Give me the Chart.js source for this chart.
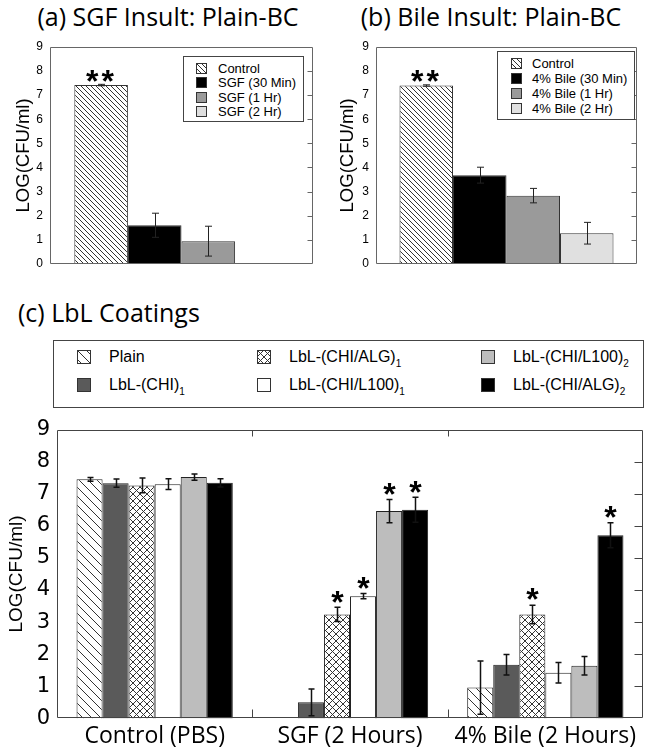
<!DOCTYPE html>
<html>
<head>
<meta charset="utf-8">
<script src="https://cdn.jsdelivr.net/npm/chart.js@4.4.1/dist/chart.umd.min.js"></script>
<style>
  html, body { margin: 0; padding: 0; background: #fff; }
  body { width: 648px; height: 755px; position: relative; overflow: hidden; font-family: 'Liberation Sans', Arial, sans-serif; }
  .abs { position: absolute; }
  .ttl { position: absolute; font-family: 'Open Sans', sans-serif; font-size: 25px; line-height: 30px; color: #000; white-space: nowrap; }
  .lg { position: absolute; border: 1px solid #444; background: #fff; box-sizing: border-box; }
  .lgt { position: absolute; white-space: nowrap; color: #000; }
  .lgt sub { font-size: 10px; vertical-align: -5px; line-height: 0; }
</style>
</head>
<body>

<div class="ttl" id="ttlA" style="left:0;top:1px;width:336px;text-align:center;">(a) SGF Insult: Plain-BC</div>
<div class="ttl" id="ttlB" style="left:324px;top:1px;width:334px;text-align:center;">(b) Bile Insult: Plain-BC</div>
<div class="ttl" id="ttlC" style="left:18px;top:297px;">(c) LbL Coatings</div>

<canvas id="chartA" class="abs" width="324" height="278" style="left:0;top:0;"></canvas>
<canvas id="chartB" class="abs" width="324" height="278" style="left:324px;top:0;"></canvas>
<canvas id="chartC" class="abs" width="648" height="345" style="left:0;top:410px;"></canvas>

<div class="lg" id="legendA" style="left:183px;top:56px;width:121px;height:66px;"></div>
<div class="lg" id="legendB" style="left:497px;top:51px;width:138px;height:69px;"></div>
<div class="lg" id="legendC" style="left:53px;top:340px;width:591px;height:68px;"></div>

<script>
// ── DATA ──
// (a) SGF insult, plain BC
const catsA = ['Control', 'SGF (30 Min)', 'SGF (1 Hr)', 'SGF (2 Hr)'];
const valsA = [7.42, 1.6, 0.94, 0];
const errA  = [0.03, 0.5, 0.62, 0];
const sigA  = ['**', '', '', ''];

// (b) bile insult, plain BC
const catsB = ['Control', '4% Bile (30 Min)', '4% Bile (1 Hr)', '4% Bile (2 Hr)'];
const valsB = [7.4, 3.68, 2.83, 1.27];
const errB  = [0.03, 0.33, 0.3, 0.45];
const sigB  = ['**', '', '', ''];

// (c) LbL coatings
const groupsC = ['Control (PBS)', 'SGF (2 Hours)', '4% Bile (2 Hours)'];
const namesC  = ['Plain', 'LbL-(CHI)', 'LbL-(CHI/ALG)', 'LbL-(CHI/L100)', 'LbL-(CHI/L100)', 'LbL-(CHI/ALG)'];
const subsC   = ['', '1', '1', '1', '2', '2'];

const plainC   = [7.45, 0, 0.96];
const chi1C    = [7.33, 0.5, 1.67];
const alg1C    = [7.26, 3.24, 3.24];
const l100_1C  = [7.30, 3.81, 1.42];
const l100_2C  = [7.52, 6.46, 1.64];
const alg2C    = [7.34, 6.50, 5.71];

const plainErr  = [0.06, 0, 0.83];
const chi1Err   = [0.13, 0.42, 0.32];
const alg1Err   = [0.23, 0.22, 0.29];
const l100_1Err = [0.17, 0.08, 0.32];
const l100_2Err = [0.1, 0.36, 0.29];
const alg2Err   = [0.13, 0.39, 0.39];

const plainSig  = ['', '', ''];
const chi1Sig   = ['', '', ''];
const alg1Sig   = ['', '*', '*'];
const l100_1Sig = ['', '*', ''];
const l100_2Sig = ['', '*', ''];
const alg2Sig   = ['', '*', '*'];

const yTicks = [0, 1, 2, 3, 4, 5, 6, 7, 8, 9];

// ── PATTERNS ──
function hatch(kind, size) {
  const c = document.createElement('canvas');
  c.width = c.height = size;
  const g = c.getContext('2d');
  g.fillStyle = '#fff';
  g.fillRect(0, 0, size, size);
  g.strokeStyle = '#333';
  g.lineWidth = 1;
  g.beginPath();
  for (const o of [-size, 0, size]) { g.moveTo(o, 0); g.lineTo(o + size, size); }
  if (kind === 'cross') for (const o of [-size, 0, size]) { g.moveTo(o, size); g.lineTo(o + size, 0); }
  g.stroke();
  return g.createPattern(c, 'repeat');
}

// ── PLUGINS ──
const errorBars = {
  id: 'errorBars',
  afterDatasetsDraw(chart, args, opts) {
    const { ctx } = chart;
    const y = chart.scales.y;
    ctx.save();
    chart.data.datasets.forEach((ds, di) => {
      const meta = chart.getDatasetMeta(di);
      meta.data.forEach((bar, j) => {
        const v = ds.data[j], e = ds.err[j];
        const x = Math.round(bar.x) + 0.5;
        const top = y.getPixelForValue(v + e);
        if (e) {
          const bot = y.getPixelForValue(Math.max(0, v - e));
          ctx.strokeStyle = opts.color;
          ctx.lineWidth = opts.width;
          ctx.beginPath();
          ctx.moveTo(x, top); ctx.lineTo(x, bot);
          ctx.moveTo(x - opts.cap, top); ctx.lineTo(x + opts.cap, top);
          ctx.moveTo(x - opts.cap, bot); ctx.lineTo(x + opts.cap, bot);
          ctx.stroke();
        }
        const s = ds.sig && ds.sig[j];
        if (s) {
          ctx.fillStyle = '#000';
          ctx.font = opts.starFont;
          ctx.letterSpacing = opts.starSpacing || '0px';
          ctx.textAlign = 'center';
          ctx.textBaseline = 'alphabetic';
          ctx.fillText(s, x, top - opts.starGap + opts.starSize * 0.57);
        }
      });
    });
    ctx.restore();
  }
};

const frame = {
  id: 'frame',
  afterDatasetsDraw(chart, args, opts) {
    const { ctx, chartArea: a } = chart;
    const y = chart.scales.y, x = chart.scales.x;
    const L = Math.round(a.left) + 0.5, R = Math.round(a.right) - 0.5;
    const T = Math.round(a.top) + 0.5, B = Math.round(a.bottom) - 0.5;
    ctx.save();
    ctx.strokeStyle = opts.color;
    ctx.lineWidth = 1;
    ctx.beginPath();
    ctx.rect(L, T, R - L, B - T);
    y.ticks.forEach(t => {
      if (t.value <= y.min || t.value >= y.max) return;
      const py = Math.round(y.getPixelForValue(t.value)) + 0.5;
      ctx.moveTo(R, py); ctx.lineTo(R - opts.tick, py);
    });
    if (opts.groupTicks) {
      for (let i = 1; i < chart.data.labels.length; i++) {
        const px = Math.round((x.getPixelForValue(i - 1) + x.getPixelForValue(i)) / 2) + 0.5;
        ctx.moveTo(px, B); ctx.lineTo(px, B - 8);
        ctx.moveTo(px, T); ctx.lineTo(px, T + 6);
      }
    }
    ctx.stroke();
    ctx.restore();
  }
};

function yScale(width, tickFont, titleSize, titlePad) {
  return {
    min: 0, max: 9,
    afterBuildTicks(s) { s.ticks = yTicks.map(v => ({ value: v })); },
    ticks: { color: '#000', font: tickFont, padding: 7 },
    grid: { display: false, drawTicks: false, tickLength: 0 },
    border: { display: false },
    title: { display: true, text: 'LOG(CFU/ml)', color: '#000',
      font: { family: 'Liberation Sans', size: titleSize }, padding: { top: titlePad, bottom: 0 } },
    afterFit(s) { s.width = width; }
  };
}

// ── (a) / (b) ──
function smallChart(id, cats, vals, errs, sigs, fills, yWidth, catPct) {
  return new Chart(document.getElementById(id), {
    type: 'bar',
    data: {
      labels: [''],
      datasets: cats.map((c, i) => ({
        label: c, data: [vals[i]], err: [errs[i]], sig: [sigs[i]],
        backgroundColor: fills[i], borderColor: '#333', borderWidth: 1,
        categoryPercentage: catPct, barPercentage: 1
      }))
    },
    options: {
      responsive: false, animation: false,
      layout: { padding: { top: 47, right: 11, bottom: 1, left: 0 } },
      plugins: {
        legend: { display: false }, tooltip: { enabled: false },
        errorBars: { color: '#222', width: 1, cap: 3.5, starFont: 'bold 32px "Liberation Sans"', starSize: 32, starGap: 11, starSpacing: '3px' },
        frame: { color: '#666', tick: 5 }
      },
      scales: {
        x: { display: false },
        y: yScale(yWidth, { family: 'Liberation Sans', size: 12 }, 18.5, 13)
      }
    },
    plugins: [errorBars, frame]
  });
}

const chartA = smallChart('chartA', catsA, valsA, errA, sigA, [hatch('diag', 5), '#000', '#9a9a9a', '#dedede'], 50, 0.815);
const chartB = smallChart('chartB', catsB, valsB, errB, sigB, [hatch('diag', 5), '#000', '#9a9a9a', '#e0e0e0'], 52, 0.82);

// ── (c) ──
const valsC = [plainC, chi1C, alg1C, l100_1C, l100_2C, alg2C];
const errsC = [plainErr, chi1Err, alg1Err, l100_1Err, l100_2Err, alg2Err];
const sigsC = [plainSig, chi1Sig, alg1Sig, l100_1Sig, l100_2Sig, alg2Sig];
const fillsC = [hatch('diag', 9), '#5a5a5a', hatch('cross', 7), '#fff', '#bdbdbd', '#000'];

const chartC = new Chart(document.getElementById('chartC'), {
  type: 'bar',
  data: {
    labels: groupsC,
    datasets: namesC.map((n, i) => ({
      label: n + subsC[i], data: valsC[i], err: errsC[i], sig: sigsC[i],
      backgroundColor: fillsC[i], borderColor: '#222', borderWidth: 1,
      categoryPercentage: 0.8, barPercentage: 1
    }))
  },
  options: {
    responsive: false, animation: false,
    layout: { padding: { top: 11, right: 5, bottom: 1, left: 0 } },
    plugins: {
      legend: { display: false }, tooltip: { enabled: false },
      errorBars: { color: '#111', width: 1.5, cap: 3, starFont: 'bold 32px "Liberation Sans"', starSize: 32, starGap: 13 },
      frame: { color: '#444', tick: 8, groupTicks: true }
    },
    scales: {
      x: {
        grid: { display: false, drawTicks: false, tickLength: 0 }, border: { display: false },
        ticks: { color: '#000', font: { family: 'Open Sans', size: 23 }, padding: 4, maxRotation: 0 }
      },
      y: yScale(57, { family: 'DejaVu Sans', size: 21 }, 19, 5)
    }
  },
  plugins: [errorBars, frame]
});

// ── HTML LEGENDS ──
function buildLegend(boxId, chart, labels, geo) {
  const box = document.getElementById(boxId);
  chart.data.datasets.forEach((ds, i) => {
    const col = Math.floor(i / geo.rows), row = i % geo.rows;
    const cx = geo.colX[col], cy = geo.rowY + row * geo.rowH;
    const sw = document.createElement('canvas');
    sw.width = sw.height = geo.sw;
    const g = sw.getContext('2d');
    g.fillStyle = ds.backgroundColor;
    g.fillRect(0, 0, geo.sw, geo.sw);
    g.strokeStyle = '#333';
    g.lineWidth = 1;
    g.strokeRect(0.5, 0.5, geo.sw - 1, geo.sw - 1);
    sw.style.cssText = `position:absolute;left:${cx}px;top:${Math.round(cy - geo.sw / 2)}px;`;
    box.appendChild(sw);
    const t = document.createElement('div');
    t.className = 'lgt';
    t.innerHTML = labels[i];
    t.style.cssText = `left:${cx + geo.gap}px;top:${cy - geo.lh / 2}px;font-size:${geo.fs}px;line-height:${geo.lh}px;`;
    box.appendChild(t);
  });
}

buildLegend('legendA', chartA, catsA, { rows: 4, colX: [12], rowY: 11, rowH: 14.5, sw: 11, gap: 22, fs: 13, lh: 15 });
buildLegend('legendB', chartB, catsB, { rows: 4, colX: [13], rowY: 11, rowH: 15, sw: 11, gap: 21, fs: 13, lh: 15 });
buildLegend('legendC', chartC, namesC.map((n, i) => n + (subsC[i] ? `<sub>${subsC[i]}</sub>` : '')),
  { rows: 2, colX: [23, 203, 427], rowY: 16, rowH: 28, sw: 14, gap: 32, fs: 16, lh: 18 });
</script>
</body>
</html>
